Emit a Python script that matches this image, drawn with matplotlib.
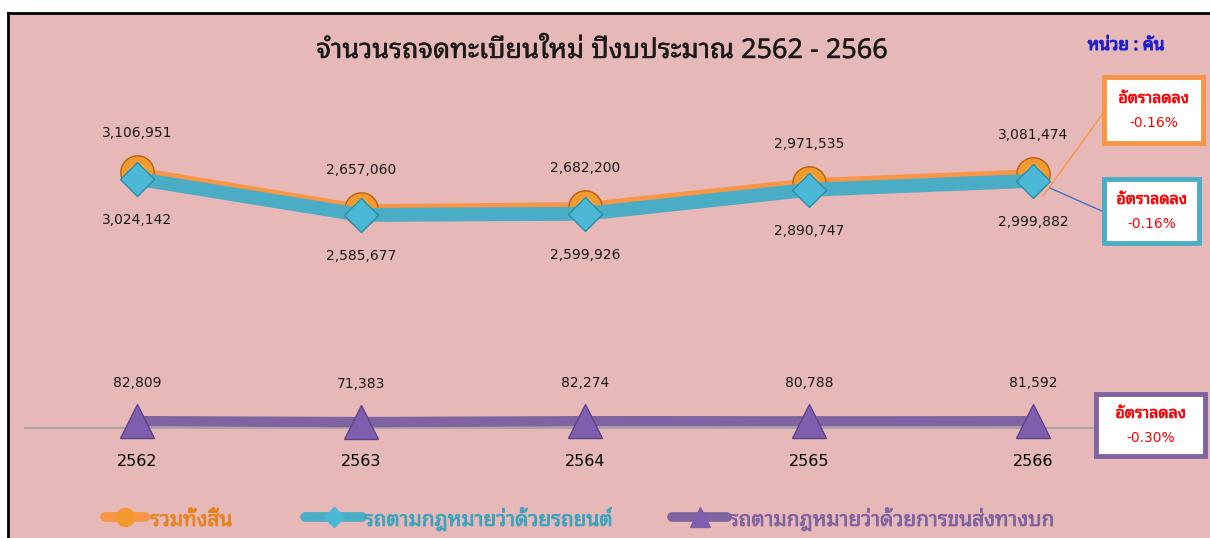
import matplotlib
matplotlib.use("Agg")
import matplotlib.pyplot as plt
from matplotlib import font_manager
from matplotlib.lines import Line2D
from matplotlib.patches import Rectangle
import matplotlib.patheffects as pe

# ---------------- data ----------------
years = ["2562", "2563", "2564", "2565", "2566"]
total = [3106951, 2657060, 2682200, 2971535, 3081474]
cars = [3024142, 2585677, 2599926, 2890747, 2999882]
transport = [82809, 71383, 82274, 80788, 81592]
series_names = ["รวมทั้งสิ้น", "รถตามกฎหมายว่าด้วยรถยนต์", "รถตามกฎหมายว่าด้วยการขนส่งทางบก"]
title = "จำนวนรถจดทะเบียนใหม่ ปีงบประมาณ 2562 - 2566"
unit_label = "หน่วย : คัน"
rate_label = "อัตราลดลง"
rates = ["-0.16%", "-0.16%", "-0.30%"]

# ---------------- fonts ----------------
available = {f.name for f in font_manager.fontManager.ttflist}
thai_font = None
for cand in ["Noto Sans Thai Looped", "Noto Sans Thai", "Loma", "Sarabun"]:
    if cand in available:
        thai_font = cand
        break
THAI = ([thai_font] if thai_font else []) + ["DejaVu Sans"]
plt.rcParams["font.family"] = THAI

def bold(color, w=0.8):
    return [pe.withStroke(linewidth=w, foreground=color)]

W, H = 1210, 538
fig = plt.figure(figsize=(W / 100, H / 100), dpi=100)
fig.patch.set_facecolor("white")

def fx(x):
    return x / W

def fy(y):
    return 1 - y / H

# background panel with black border on left/top
fig.patches.append(Rectangle((fx(8), 0), 1 - fx(8), fy(13), transform=fig.transFigure,
                             facecolor="#E6B8B7", edgecolor="none", zorder=-10))
fig.add_artist(Line2D([fx(7.5), fx(7.5)], [0, fy(12.5)], color="black", lw=2, transform=fig.transFigure))
fig.add_artist(Line2D([fx(7.5), 1], [fy(12.5), fy(12.5)], color="black", lw=2, transform=fig.transFigure))

# axes: zero line at y=428 px, scale ~12137 units per px
zero_px = 428
ymax = 3.4e6
h_px = ymax / 12137
ax = fig.add_axes([fx(25), fy(zero_px), fx(1145) - fx(25), h_px / H])
ax.set_zorder(2)
ax.set_facecolor("none")
ax.set_xlim(-0.5, 4.5)
ax.set_ylim(0, ymax)
for s in ["left", "right", "top"]:
    ax.spines[s].set_visible(False)
ax.spines["bottom"].set_color("#A6A6A6")
ax.spines["bottom"].set_linewidth(1.5)
ax.set_yticks([])
ax.set_xticks(range(len(years)))
ax.set_xticklabels(years, fontsize=11.5, color="black", family=["DejaVu Sans"])
ax.tick_params(axis="x", length=0, pad=19)

x = list(range(len(years)))
ORANGE = "#F79646"
TEAL = "#4BACC6"
PURPLE = "#8064A2"

ax.plot(x, total, color=ORANGE, lw=7, marker="o", ms=24, mfc="#F39A2E",
        mec="#B8600F", mew=1, zorder=3, clip_on=False, solid_joinstyle="round")
ax.plot(x, total, lw=0, marker="o", ms=13, mfc="#FFB347", mec="none", zorder=3.1,
        clip_on=False)
ax.plot(x, cars, color=TEAL, lw=10, marker="D", ms=17.5, mfc="#4BB8D6",
        mec="#2E8CA6", mew=1, zorder=4, clip_on=False, solid_joinstyle="round")
ax.plot(x, transport, color=PURPLE, lw=7.5, marker="^", ms=24, mfc="#7E5FAE",
        mec="#5E4488", mew=1, zorder=4, clip_on=False)

numfont = ["DejaVu Sans"]
for i in x:
    ax.annotate(f"{total[i]:,}", (i, total[i]), xytext=(0, 28), textcoords="offset points",
                ha="center", va="center", fontsize=10, family=numfont, color="#1a1a1a")
    ax.annotate(f"{cars[i]:,}", (i, cars[i]), xytext=(0, -29.5), textcoords="offset points",
                ha="center", va="center", fontsize=10, family=numfont, color="#1a1a1a")
    ax.annotate(f"{transport[i]:,}", (i, transport[i]), xytext=(0, 27.5), textcoords="offset points",
                ha="center", va="center", fontsize=10, family=numfont, color="#1a1a1a")

# title and unit
fig.text(fx(602), fy(58), title, ha="center", va="baseline", fontsize=19.5, color="#1a1a1a",
         path_effects=bold("#1a1a1a", 0.3))
fig.text(fx(1126), fy(50), unit_label, ha="center", va="baseline", fontsize=12.5,
         color="#1F1FD0", path_effects=bold("#1F1FD0", 0.8))

# rate boxes
boxes = [  # x0, y0, x1, y1, edge colour
    (1104, 77, 1203, 143, ORANGE),
    (1104, 179, 1199, 243, TEAL),
    (1096, 394, 1205, 456, PURPLE),
]
for (x0, y0, x1, y1, ec), r in zip(boxes, rates):
    fig.patches.append(Rectangle((fx(x0), fy(y1)), fx(x1) - fx(x0), fy(y0) - fy(y1),
                                 transform=fig.transFigure, facecolor="white",
                                 edgecolor=ec, lw=3.5, zorder=5))
    cx = (x0 + x1) / 2
    cy = (y0 + y1) / 2
    fig.text(fx(cx), fy(cy - 7), rate_label, ha="center", va="baseline", fontsize=11.5,
             color="#FF0000", zorder=6, path_effects=bold("#FF0000", 0.4))
    fig.text(fx(cx), fy(cy + 13), r, ha="center", va="center", fontsize=10,
             color="#FF0000", zorder=6, family=numfont)

# leader lines
fig.add_artist(Line2D([fx(1043), fx(1104)], [fy(196), fy(112)], color=ORANGE, lw=1,
                      transform=fig.transFigure))
fig.add_artist(Line2D([fx(1050), fx(1104)], [fy(188), fy(212)], color="#4472C4", lw=1,
                      transform=fig.transFigure))

# legend (manual)
leg = [
    (105, 145, 150, ORANGE, "o", 13, "#F39A2E", "#E8821F", series_names[0]),
    (305, 362, 364, TEAL, "D", 10, "#4BB8D6", "#3AA3BF", series_names[1]),
    (672, 727, 729, PURPLE, "^", 14, "#7E5FAE", "#7F64A2", series_names[2]),
]
for x0, x1, tx, col, mk, ms, mfc, tcol, name in leg:
    fig.add_artist(Line2D([fx(x0), fx(x1)], [fy(517), fy(517)], color=col, lw=7,
                          solid_capstyle="round", transform=fig.transFigure))
    fig.add_artist(Line2D([fx((x0 + x1) / 2)], [fy(517)], marker=mk, ms=ms, mfc=mfc,
                          mec=mfc, lw=0, transform=fig.transFigure))
    fig.text(fx(tx), fy(526), name, ha="left", va="baseline", fontsize=15, color=tcol,
             path_effects=bold(tcol, 0.5))

fig.savefig("out.png", dpi=100, facecolor=fig.get_facecolor())
